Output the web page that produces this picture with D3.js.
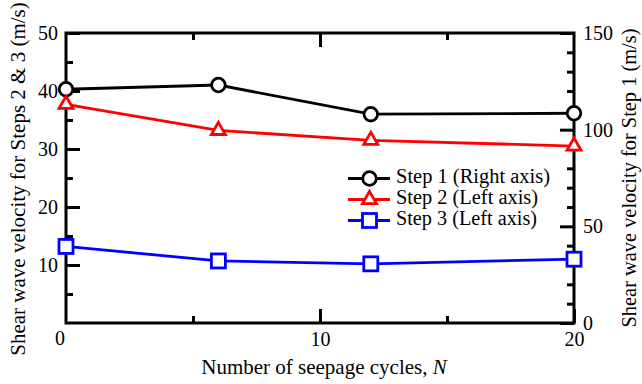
<!DOCTYPE html>
<html><head><meta charset="utf-8">
<script src="https://cdn.jsdelivr.net/npm/d3@7"></script>
<style>body{margin:0;background:#fff}svg{display:block;font-family:"Liberation Serif","Times New Roman",serif}</style>
</head><body>
<script>
const cycles = [0, 6, 12, 20];
const step1 = [120.9, 123.1, 108.0, 108.5];   // right axis
const step2 = [37.7, 33.2, 31.5, 30.5];       // left axis
const step3 = [13.2, 10.7, 10.2, 11.0];       // left axis
const xTicks = [0, 10, 20];
const xMinor = [5, 15];
const yLTicks = [10, 20, 30, 40, 50];
const yLMinor = [5, 15, 25, 35, 45];
const yRTicks = [0, 50, 100, 150];
const yRMinor = [10, 20, 30, 40, 60, 70, 80, 90, 110, 120, 130, 140];
const legendLabels = ["Step 1 (Right axis)", "Step 2 (Left axis)", "Step 3 (Left axis)"];

const W = 642, H = 384;
const L = 66, R = 574, T = 33, B = 323;
const svg = d3.select("body").append("svg").attr("width", W).attr("height", H);

const x = d3.scaleLinear([0, 20], [L, R]);
const yL = d3.scaleLinear([0, 50], [B, T]);
const yR = d3.scaleLinear([0, 150], [B, T]);

const fs = 20;
function style(g) {
  g.select(".domain").remove();
  g.selectAll("line").attr("stroke", "#000").attr("stroke-width", 3);
  g.selectAll("text").attr("font-size", fs).attr("font-family", "Liberation Serif").attr("fill", "#000");
}
// bottom
svg.append("g").attr("transform", `translate(0,${B})`)
  .call(d3.axisBottom(x).tickValues(xTicks.slice(1)).tickSizeInner(-14).tickSizeOuter(0).tickPadding(9).tickFormat(d3.format("d"))).call(style);
svg.append("g").attr("transform", `translate(0,${B})`)
  .call(d3.axisBottom(x).tickValues(xMinor).tickSizeInner(-7).tickSizeOuter(0).tickFormat("")).call(style);
// "0" under corner
svg.append("text").attr("x", x(xTicks[0]) - 6).attr("y", B + 17).attr("text-anchor", "middle").attr("dominant-baseline", "middle")
  .attr("font-size", fs).text(d3.format("d")(xTicks[0]));
// top
svg.append("g").attr("transform", `translate(0,${T})`)
  .call(d3.axisTop(x).tickValues([10]).tickSizeInner(-14).tickSizeOuter(0).tickFormat("")).call(style);
svg.append("g").attr("transform", `translate(0,${T})`)
  .call(d3.axisTop(x).tickValues(xMinor).tickSizeInner(-7).tickSizeOuter(0).tickFormat("")).call(style);
// left
svg.append("g").attr("transform", `translate(${L},0)`)
  .call(d3.axisLeft(yL).tickValues(yLTicks).tickSizeInner(-14).tickSizeOuter(0).tickPadding(8)).call(style);
svg.append("g").attr("transform", `translate(${L},0)`)
  .call(d3.axisLeft(yL).tickValues(yLMinor).tickSizeInner(-7).tickSizeOuter(0).tickFormat("")).call(style);
// right
svg.append("g").attr("transform", `translate(${R},0)`)
  .call(d3.axisRight(yR).tickValues(yRTicks).tickSizeInner(-14).tickSizeOuter(0).tickPadding(9)).call(style);
svg.append("g").attr("transform", `translate(${R},0)`)
  .call(d3.axisRight(yR).tickValues(yRMinor).tickSizeInner(-7).tickSizeOuter(0).tickFormat("")).call(style);

// frame
svg.append("rect").attr("x", L).attr("y", T).attr("width", R - L).attr("height", B - T)
  .attr("fill", "none").attr("stroke", "#000").attr("stroke-width", 3);

// titles
const xt = svg.append("text").attr("x", (L + R) / 2 + 4).attr("y", 374).attr("text-anchor", "middle").attr("font-size", 21);
xt.append("tspan").text("Number of seepage cycles, ");
xt.append("tspan").attr("font-style", "italic").text("N");
svg.append("text").attr("transform", `translate(25,${(T + B) / 2 + 1}) rotate(-90)`).attr("text-anchor", "middle")
  .attr("font-size", 21).text("Shear wave velocity for Steps 2 & 3 (m/s)");
svg.append("text").attr("transform", `translate(636,${(T + B) / 2}) rotate(-90)`).attr("text-anchor", "middle")
  .attr("font-size", 20.4).text("Shear wave velocity for Step 1 (m/s)");

const triPath = (cx, cy, w) => { const h = w * Math.sqrt(3) / 2; return `M${cx},${cy - 2 * h / 3}L${cx + w / 2},${cy + h / 3}L${cx - w / 2},${cy + h / 3}Z`; };
function marker(g, type, cx, cy, color) {
  if (type === "circle") g.append("circle").attr("cx", cx).attr("cy", cy).attr("r", 6.8).attr("fill", "#fff").attr("stroke", color).attr("stroke-width", 2.8);
  else if (type === "square") g.append("rect").attr("x", cx - 7).attr("y", cy - 7).attr("width", 14).attr("height", 14).attr("fill", "#fff").attr("stroke", color).attr("stroke-width", 2.8);
  else g.append("path").attr("d", triPath(cx, cy, 14)).attr("fill", "#fff").attr("stroke", color).attr("stroke-width", 2.8);
}
const series = [
  { vals: step1, y: yR, color: "#000", type: "circle" },
  { vals: step2, y: yL, color: "#ff0000", type: "triangle" },
  { vals: step3, y: yL, color: "#0000ff", type: "square" }
];
series.forEach(s => {
  const g = svg.append("g");
  const pts = cycles.map((c, i) => [x(c), s.y(s.vals[i])]);
  g.append("path").attr("d", d3.line()(pts)).attr("fill", "none").attr("stroke", s.color).attr("stroke-width", 2.8);
  pts.forEach(p => marker(g, s.type, p[0], p[1], s.color));
});

// legend
const legendWidths = [154, 142, 141];
const lg = svg.append("g");
series.forEach((s, i) => {
  const yy = 178.5 + i * 21;
  lg.append("line").attr("x1", 348).attr("x2", 390).attr("y1", yy).attr("y2", yy).attr("stroke", s.color).attr("stroke-width", 2.8);
  marker(lg, s.type, 369.5, yy, s.color);
  lg.append("text").attr("x", 396).attr("y", yy).attr("dominant-baseline", "middle").attr("font-size", fs)
    .attr("textLength", legendWidths[i]).attr("lengthAdjust", "spacingAndGlyphs").text(legendLabels[i]);
});
</script>
</body></html>
